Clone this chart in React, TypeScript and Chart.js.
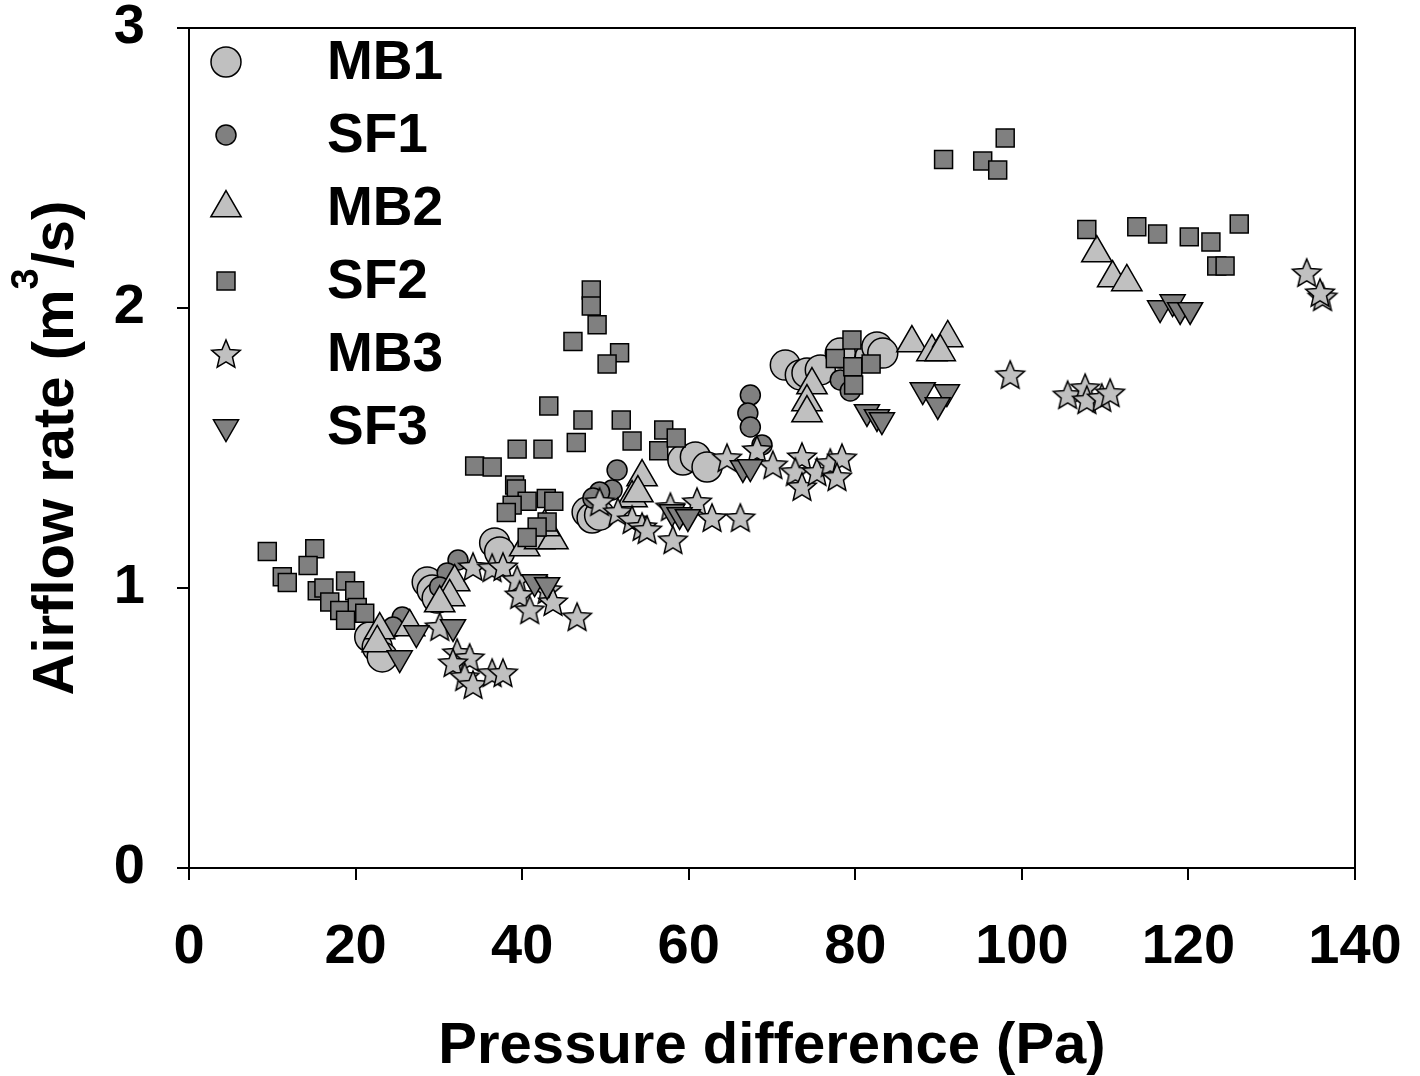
import React, { useEffect, useRef } from 'react';
import { Chart, registerables } from 'chart.js';
import { drawPoint } from 'chart.js/helpers';

Chart.register(...registerables);

const seriesNames = ['MB1', 'SF1', 'MB2', 'SF2', 'MB3', 'SF3'];

const mb1X = [21.7, 22.6, 23.2, 28.6, 29.2, 29.8, 36.7, 37.3, 47.8, 48.4, 49.3, 59.3, 60.8, 62.2, 71.6, 73.4, 74.2, 75.8, 78.2, 81.8, 82.6, 83.3];
const mb1Y = [0.825, 0.789, 0.754, 1.021, 0.993, 0.964, 1.161, 1.129, 1.271, 1.25, 1.26, 1.457, 1.468, 1.432, 1.796, 1.761, 1.768, 1.779, 1.839, 1.825, 1.861, 1.839];

const sf1X = [25.6, 24.5, 32.3, 31.0, 30.1, 51.4, 50.8, 49.3, 48.5, 67.4, 67.1, 67.4, 68.8, 78.2, 79.4];
const sf1Y = [0.896, 0.861, 1.10, 1.054, 1.004, 1.421, 1.35, 1.343, 1.321, 1.689, 1.625, 1.575, 1.511, 1.743, 1.704];

const mb2X = [22.9, 22.6, 26.5, 31.9, 31.3, 30.1, 40.3, 42.1, 43.7, 42.7, 54.4, 53.2, 53.9, 74.8, 74.2, 74.2, 86.8, 89.2, 91.1, 90.2, 109.0, 110.9, 112.6];
const mb2Y = [0.85, 0.804, 0.861, 1.021, 0.968, 0.946, 1.146, 1.171, 1.171, 1.218, 1.396, 1.321, 1.339, 1.725, 1.664, 1.625, 1.875, 1.843, 1.893, 1.843, 2.196, 2.107, 2.093];

const sf2X = [9.4, 15.1, 14.3, 11.2, 11.8, 15.4, 16.2, 18.8, 19.9, 16.9, 18.1, 20.2, 18.8, 21.1, 34.3, 36.4, 39.4, 42.5, 43.2, 46.5, 47.3, 48.3, 48.3, 49.0, 46.1, 51.7, 50.2, 51.9, 53.2, 56.4, 57.0, 58.5, 39.1, 39.3, 40.6, 38.8, 38.1, 42.9, 43.8, 43.0, 41.8, 40.6, 79.6, 77.6, 79.7, 81.9, 79.8, 90.6, 95.3, 98.0, 97.1, 107.8, 113.8, 116.3, 120.1, 122.7, 126.1, 123.4, 124.4];
const sf2Y = [1.13, 1.14, 1.08, 1.04, 1.02, 0.99, 1.00, 1.025, 0.99, 0.95, 0.92, 0.93, 0.885, 0.91, 1.436, 1.432, 1.496, 1.496, 1.65, 1.52, 1.60, 2.064, 2.007, 1.94, 1.88, 1.84, 1.80, 1.60, 1.525, 1.49, 1.564, 1.536, 1.368, 1.354, 1.31, 1.296, 1.27, 1.32, 1.31, 1.236, 1.218, 1.18, 1.886, 1.82, 1.79, 1.80, 1.725, 2.53, 2.525, 2.607, 2.493, 2.28, 2.29, 2.264, 2.254, 2.236, 2.30, 2.15, 2.15];

const mb3X = [30.1, 32.2, 33.7, 31.7, 33.1, 34.1, 36.4, 37.7, 34.1, 36.4, 37.7, 39.4, 39.7, 40.9, 43.0, 43.7, 46.6, 49.3, 51.5, 53.2, 54.4, 55.0, 57.8, 58.1, 61.0, 62.8, 66.2, 64.6, 68.2, 70.1, 73.6, 72.8, 73.6, 75.4, 77.0, 78.4, 77.8, 98.6, 105.5, 107.6, 107.8, 109.6, 110.6, 134.2, 136.1, 135.8];
const mb3Y = [0.861, 0.768, 0.75, 0.732, 0.682, 0.654, 0.696, 0.696, 1.075, 1.071, 1.075, 1.029, 0.975, 0.921, 0.993, 0.95, 0.896, 1.307, 1.271, 1.243, 1.218, 1.207, 1.289, 1.171, 1.307, 1.25, 1.25, 1.464, 1.493, 1.439, 1.468, 1.414, 1.361, 1.414, 1.446, 1.464, 1.396, 1.761, 1.689, 1.714, 1.671, 1.679, 1.696, 2.125, 2.039, 2.054];

const sf3X = [25.3, 27.3, 31.7, 41.5, 43.0, 58.0, 58.9, 59.9, 66.5, 67.4, 81.4, 82.6, 83.2, 88.1, 91.0, 89.9, 116.6, 118.1, 119.0, 120.2];
const sf3Y = [0.75, 0.839, 0.861, 1.021, 1.011, 1.271, 1.261, 1.254, 1.429, 1.432, 1.629, 1.611, 1.60, 1.707, 1.70, 1.654, 2.0, 2.021, 1.993, 1.993];

const xTicks = [0, 20, 40, 60, 80, 100, 120, 140];
const yTicks = [0, 1, 2, 3];

const xTitle = 'Pressure difference (Pa)';
const yTitleParts = ['Airflow rate (m', '3', '/s)'];

const LIGHT = '#c0c0c0';
const DARK = '#808080';
const FONT = 'Liberation Sans, Arial, sans-serif';

function pts(xs: number[], ys: number[]) {
  return xs.map((x, i) => ({ x, y: ys[i] }));
}

function makeStar(fill: string): HTMLCanvasElement {
  const size = 36;
  const c = document.createElement('canvas');
  c.width = size;
  c.height = size;
  const g = c.getContext('2d')!;
  const cx = size / 2;
  const cy = size / 2 + 1;
  const ro = 15;
  const ri = 6.8;
  g.beginPath();
  for (let i = 0; i < 10; i++) {
    const r = i % 2 === 0 ? ro : ri;
    const a = -Math.PI / 2 + (i * Math.PI) / 5;
    const px = cx + r * Math.cos(a);
    const py = cy + r * Math.sin(a);
    if (i === 0) g.moveTo(px, py);
    else g.lineTo(px, py);
  }
  g.closePath();
  g.fillStyle = fill;
  g.fill();
  g.lineWidth = 1.5;
  g.strokeStyle = '#000';
  g.lineJoin = 'miter';
  g.stroke();
  return c;
}

export default function App() {
  const ref = useRef<HTMLCanvasElement | null>(null);

  useEffect(() => {
    if (!ref.current) return;
    const star = makeStar(LIGHT);

    const styles = [
      { pointStyle: 'circle', radius: 15, rotation: 0, fill: LIGHT },
      { pointStyle: 'circle', radius: 10, rotation: 0, fill: DARK },
      { pointStyle: 'triangle', radius: 17.5, rotation: 0, fill: LIGHT },
      { pointStyle: 'rect', radius: 12.7, rotation: 0, fill: DARK },
      { pointStyle: star as any, radius: 15, rotation: 0, fill: LIGHT },
      { pointStyle: 'triangle', radius: 14.5, rotation: 180, fill: DARK },
    ];
    const dataSets = [
      pts(mb1X, mb1Y),
      pts(sf1X, sf1Y),
      pts(mb2X, mb2Y),
      pts(sf2X, sf2Y),
      pts(mb3X, mb3Y),
      pts(sf3X, sf3Y),
    ];

    const boxPlugin = {
      id: 'boxAndLegend',
      afterDraw(chart: any) {
        const { ctx, chartArea } = chart;
        ctx.save();
        ctx.strokeStyle = '#000';
        ctx.lineWidth = 2;
        ctx.beginPath();
        ctx.moveTo(chartArea.left - 1, chartArea.top);
        ctx.lineTo(chartArea.right, chartArea.top);
        ctx.lineTo(chartArea.right, chartArea.bottom + 1);
        ctx.stroke();

        // legend
        const rowY = [62, 135, 208, 281, 354, 427];
        seriesNames.forEach((name, i) => {
          const st = styles[i];
          ctx.fillStyle = st.fill;
          ctx.strokeStyle = '#000';
          ctx.lineWidth = 1.5;
          drawPoint(ctx, { pointStyle: st.pointStyle, radius: st.radius, rotation: st.rotation, borderWidth: 1.5 } as any, 226, rowY[i]);
          ctx.fillStyle = '#000';
          ctx.font = `bold 55px ${FONT}`;
          ctx.textAlign = 'left';
          ctx.textBaseline = 'middle';
          ctx.fillText(name, 327, rowY[i] + 2);
        });

        // y-axis title with superscript
        const mainFont = `bold 58px ${FONT}`;
        const supFont = `bold 38px ${FONT}`;
        ctx.font = mainFont;
        const w0 = ctx.measureText(yTitleParts[0]).width;
        const w2 = ctx.measureText(yTitleParts[2]).width;
        ctx.font = supFont;
        const w1 = ctx.measureText(yTitleParts[1]).width;
        const total = w0 + w1 + w2;
        const cy = (chartArea.top + chartArea.bottom) / 2;
        ctx.translate(0, cy);
        ctx.rotate(-Math.PI / 2);
        ctx.textAlign = 'left';
        ctx.textBaseline = 'alphabetic';
        ctx.fillStyle = '#000';
        let xs = -total / 2;
        ctx.font = mainFont;
        ctx.fillText(yTitleParts[0], xs, 73);
        xs += w0;
        ctx.font = supFont;
        ctx.fillText(yTitleParts[1], xs, 38);
        xs += w1;
        ctx.font = mainFont;
        ctx.fillText(yTitleParts[2], xs, 73);
        ctx.restore();
      },
    };

    const chart = new Chart(ref.current, {
      type: 'scatter',
      data: {
        datasets: seriesNames.map((name, i) => ({
          label: name,
          data: dataSets[i],
          pointStyle: styles[i].pointStyle as any,
          pointRadius: styles[i].radius,
          pointRotation: styles[i].rotation,
          backgroundColor: styles[i].fill,
          borderColor: '#000',
          borderWidth: 1.5,
          order: 6 - i,
        })),
      },
      options: {
        animation: false,
        responsive: false,
        devicePixelRatio: 1,
        layout: { padding: { top: 28, right: 65, left: 0, bottom: 0 } },
        plugins: {
          legend: { display: false },
          tooltip: { enabled: false },
        },
        scales: {
          x: {
            type: 'linear',
            min: 0,
            max: 140,
            afterBuildTicks: (scale: any) => {
              scale.ticks = xTicks.map((v) => ({ value: v }));
            },
            afterFit: (scale: any) => {
              scale.height = 208;
              scale.paddingLeft = 0;
              scale.paddingRight = 0;
            },
            ticks: {
              color: '#000',
              font: { family: FONT, size: 56, weight: 'bold' },
              padding: 34,
              maxRotation: 0,
              autoSkip: false,
            },
            grid: {
              drawOnChartArea: false,
              drawTicks: true,
              tickLength: 12,
              color: '#000',
              lineWidth: 2,
            },
            border: { display: true, color: '#000', width: 2 },
            title: {
              display: true,
              text: xTitle,
              color: '#000',
              font: { family: FONT, size: 58, weight: 'bold', lineHeight: 1.0 },
              padding: { top: 0, bottom: 0 },
            },
          },
          y: {
            type: 'linear',
            min: 0,
            max: 3,
            afterBuildTicks: (scale: any) => {
              scale.ticks = yTicks.map((v) => ({ value: v }));
            },
            afterFit: (scale: any) => {
              scale.width = 189;
              scale.paddingTop = 0;
              scale.paddingBottom = 0;
            },
            ticks: {
              color: '#000',
              font: { family: FONT, size: 56, weight: 'bold' },
              padding: 32,
              autoSkip: false,
            },
            grid: {
              drawOnChartArea: false,
              drawTicks: true,
              tickLength: 12,
              color: '#000',
              lineWidth: 2,
            },
            border: { display: true, color: '#000', width: 2 },
            title: { display: false },
          },
        },
      },
      plugins: [boxPlugin],
    });
    return () => chart.destroy();
  }, []);

  return (
    <div style={{ position: 'absolute', left: 0, top: 0, width: 1420, height: 1076, background: '#fff' }}>
      <canvas ref={ref} width={1420} height={1076} style={{ width: 1420, height: 1076 }} />
    </div>
  );
}
